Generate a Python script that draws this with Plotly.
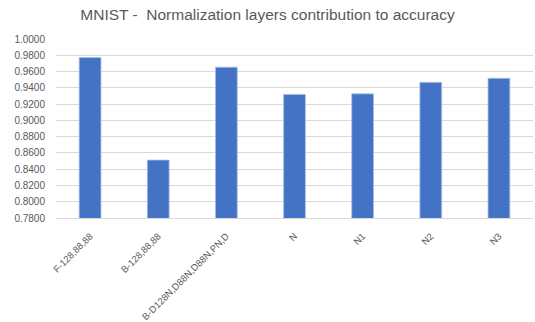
import plotly.graph_objects as go

categories = ["F-128,88,88", "B-128,88,88", "B-D128N,D88N,D88N,PN,D", "N", "N1", "N2", "N3"]
accuracy = [0.9772, 0.8512, 0.9654, 0.9319, 0.9326, 0.9467, 0.9517]
y_ticks = [0.78, 0.80, 0.82, 0.84, 0.86, 0.88, 0.90, 0.92, 0.94, 0.96, 0.98, 1.00]
y_tick_labels = [f"{v:.4f}" for v in y_ticks]

fig = go.Figure(
    go.Bar(
        x=categories,
        y=accuracy,
        marker=dict(color="#4472C4", line=dict(color="#A9C0E8", width=0.8)),
        hoverinfo="skip",
    )
)

fig.update_layout(
    width=535,
    height=322,
    margin=dict(l=56, r=2, t=39, b=104),
    paper_bgcolor="white",
    plot_bgcolor="white",
    bargap=0.68,
    showlegend=False,
    title=dict(
        text="MNIST -  Normalization layers contribution to accuracy",
        x=0.5,
        xanchor="center",
        y=1 - 15 / 322,
        yanchor="middle",
        font=dict(family="Liberation Sans, Arial, sans-serif", size=15.5, color="#595959"),
    ),
    font=dict(family="Liberation Sans, Arial, sans-serif", color="#595959"),
)

fig.update_yaxes(
    range=[0.78, 1.0],
    tickvals=y_ticks,
    ticktext=y_tick_labels,
    showgrid=True,
    gridcolor="#D9D9D9",
    gridwidth=1,
    zeroline=False,
    showline=False,
    ticks="outside",
    ticklen=8,
    tickcolor="rgba(0,0,0,0)",
    automargin=False,
    tickfont=dict(size=10, color="#595959"),
)

fig.update_xaxes(
    tickangle=-45,
    showline=True,
    linecolor="#D9D9D9",
    linewidth=1,
    ticks="outside",
    ticklen=8,
    tickcolor="rgba(0,0,0,0)",
    automargin=False,
    tickfont=dict(size=9.5, color="#595959"),
)

fig.write_html(
    "out.html",
    config={"displayModeBar": False},
    post_script="document.body.style.margin='0';",
)
